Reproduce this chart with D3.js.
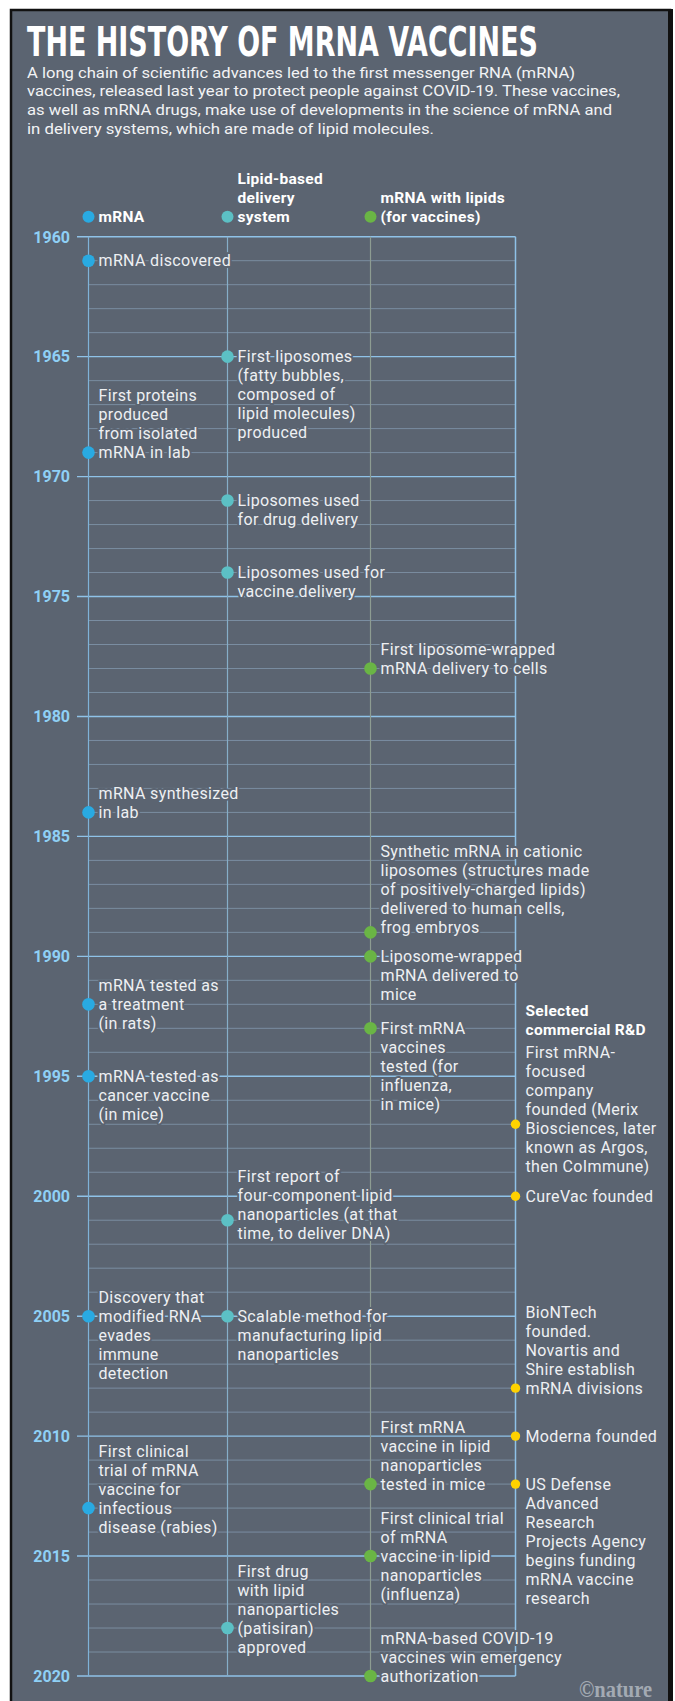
<!DOCTYPE html>
<html>
<head>
<meta charset="utf-8">
<script src="https://cdn.jsdelivr.net/npm/d3@7"></script>
<style>
  body { margin: 0; background: #fff; }
  svg text { font-family: Roboto, "Noto Sans", sans-serif; }
</style>
</head>
<body>
<div id="chart"></div>
<script>

// ---- data ----
var title = "THE HISTORY OF MRNA VACCINES";
var subtitle = [
  "A long chain of scientific advances led to the first messenger RNA (mRNA)",
  "vaccines, released last year to protect people against COVID-19. These vaccines,",
  "as well as mRNA drugs, make use of developments in the science of mRNA and",
  "in delivery systems, which are made of lipid molecules."
];

var tracks = ["mrna", "lipid", "vaccine", "commercial"];
var trackHeaders = [
  ["mRNA"],
  ["Lipid-based", "delivery", "system"],
  ["mRNA with lipids", "(for vaccines)"],
  ["Selected", "commercial R&D"]
];

var yearTicks = [1960, 1965, 1970, 1975, 1980, 1985, 1990, 1995, 2000, 2005, 2010, 2015, 2020];

var mrnaEvents = [
  { year: 1961, text: ["mRNA discovered"] },
  { year: 1969, text: ["First proteins", "produced", "from isolated", "mRNA in lab"] },
  { year: 1984, text: ["mRNA synthesized", "in lab"] },
  { year: 1992, text: ["mRNA tested as", "a treatment", "(in rats)"] },
  { year: 1995, text: ["mRNA tested as", "cancer vaccine", "(in mice)"] },
  { year: 2005, text: ["Discovery that", "modified RNA", "evades", "immune", "detection"] },
  { year: 2013, text: ["First clinical", "trial of mRNA", "vaccine for", "infectious", "disease (rabies)"] }
];

var lipidEvents = [
  { year: 1965, text: ["First liposomes", "(fatty bubbles,", "composed of", "lipid molecules)", "produced"] },
  { year: 1971, text: ["Liposomes used", "for drug delivery"] },
  { year: 1974, text: ["Liposomes used for", "vaccine delivery"] },
  { year: 2001, text: ["First report of", "four-component lipid", "nanoparticles (at that", "time, to deliver DNA)"] },
  { year: 2005, text: ["Scalable method for", "manufacturing lipid", "nanoparticles"] },
  { year: 2018, text: ["First drug", "with lipid", "nanoparticles", "(patisiran)", "approved"] }
];

var vaccineEvents = [
  { year: 1978, text: ["First liposome-wrapped", "mRNA delivery to cells"] },
  { year: 1989, text: ["Synthetic mRNA in cationic", "liposomes (structures made", "of positively-charged lipids)", "delivered to human cells,", "frog embryos"] },
  { year: 1990, text: ["Liposome-wrapped", "mRNA delivered to", "mice"] },
  { year: 1993, text: ["First mRNA", "vaccines", "tested (for", "influenza,", "in mice)"] },
  { year: 2012, text: ["First mRNA", "vaccine in lipid", "nanoparticles", "tested in mice"] },
  { year: 2015, text: ["First clinical trial", "of mRNA", "vaccine in lipid", "nanoparticles", "(influenza)"] },
  { year: 2020, text: ["mRNA-based COVID-19", "vaccines win emergency", "authorization"] }
];

var commercialEvents = [
  { year: 1997, text: ["First mRNA-", "focused", "company", "founded (Merix", "Biosciences, later", "known as Argos,", "then CoImmune)"] },
  { year: 2000, text: ["CureVac founded"] },
  { year: 2008, text: ["BioNTech", "founded.", "Novartis and", "Shire establish", "mRNA divisions"] },
  { year: 2010, text: ["Moderna founded"] },
  { year: 2012, text: ["US Defense", "Advanced", "Research", "Projects Agency", "begins funding", "mRNA vaccine", "research"] }
];

// ---- layout ----
// which text line sits level with the dot (in lines, from the first)
var anchors = {
  mrna: [0, 3, 1, 1, 0, 1, 3],
  lipid: [0, 0, 0, 2.3, 0, 3],
  vaccine: [1, 4.25, 0, 0, 3, 2, 2],
  commercial: [3.77, 0, 4, 0, 0]
};

var W = 675, H = 1701;
var bg = "#5b6471";
var dotColor = d3.scaleOrdinal().domain(tracks).range(["#29aae2", "#5cc0c5", "#6ab545", "#ffd200"]);
var lineColor = d3.scaleOrdinal().domain(tracks).range(["#7fb2d8", "#86aec8", "#8d9c92", "#8fc1e8"]);
var xCol = d3.scaleOrdinal().domain(tracks).range([88.5, 227.5, 370.5, 515.5]);
var yScale = d3.scaleLinear().domain([1960, 2020]).range([236.7, 1676]);
var lineH = 19;
var fontSize = 16;
var spacing = "0.35px";

var svg = d3.select("#chart").append("svg")
  .attr("width", W)
  .attr("height", H);

// panel
svg.append("rect").attr("x", 0).attr("y", 0).attr("width", W).attr("height", H).attr("fill", "#fff");
svg.append("rect")
  .attr("x", 11).attr("y", 10).attr("width", 659).attr("height", H)
  .attr("fill", bg).attr("stroke", "#111").attr("stroke-width", 2.5);
svg.append("rect").attr("x", 668).attr("y", 9).attr("width", 5).attr("height", H).attr("fill", "#111");

// title (squeezed condensed bold, stretched vertically)
svg.append("text")
  .attr("transform", "translate(27,55.5) scale(1,1.25)")
  .attr("textLength", 511).attr("lengthAdjust", "spacingAndGlyphs")
  .style("font-family", "'DejaVu Sans Condensed', 'DejaVu Sans', sans-serif")
  .style("font-weight", "bold").style("font-size", "32px")
  .attr("fill", "#fff")
  .text(title);

var subWidths = [548, 593, 585, 407];
svg.selectAll(".sub").data(subtitle).enter().append("text")
  .attr("class", "sub")
  .attr("x", 27)
  .attr("y", function(d, i) { return 77.5 + i * 18.7; })
  .attr("textLength", function(d, i) { return subWidths[i]; })
  .attr("lengthAdjust", "spacingAndGlyphs")
  .style("font-size", "15px")
  .attr("fill", "#f2f3f5")
  .text(function(d) { return d; });

// grid
var years = d3.range(1960, 2021);
var xRight = xCol("commercial");

svg.append("g").selectAll("line").data(years.filter(function(y) { return y % 5 != 0; }))
  .enter().append("line")
  .attr("x1", xCol("mrna")).attr("x2", xRight)
  .attr("y1", function(d) { return yScale(d); })
  .attr("y2", function(d) { return yScale(d); })
  .attr("stroke", "#7a8da1").attr("stroke-width", 1);

svg.append("g").selectAll("line").data(yearTicks)
  .enter().append("line")
  .attr("x1", 77).attr("x2", xRight)
  .attr("y1", function(d) { return yScale(d); })
  .attr("y2", function(d) { return yScale(d); })
  .attr("stroke", "#8fc2e8").attr("stroke-width", 1.4);

// year labels
svg.append("g").selectAll("text").data(yearTicks)
  .enter().append("text")
  .attr("x", 70)
  .attr("y", function(d) { return yScale(d) + 5.8; })
  .attr("text-anchor", "end")
  .style("font-size", "16px").style("font-weight", "bold")
  .attr("fill", "#8fd0f6")
  .text(function(d) { return d; });

// track verticals
svg.append("g").selectAll("line").data(tracks)
  .enter().append("line")
  .attr("x1", function(d) { return xCol(d); })
  .attr("x2", function(d) { return xCol(d); })
  .attr("y1", yScale(1960)).attr("y2", yScale(2020))
  .attr("stroke", function(d) { return lineColor(d); })
  .attr("stroke-width", function(d) { return d == "commercial" ? 1.5 : 1.2; });

// legend headers
var headerBase = [221.7, 221.7, 221.7, 1034.5];
tracks.forEach(function(t, i) {
  var lines = trackHeaders[i];
  var g = svg.append("g");
  g.selectAll("text").data(lines).enter().append("text")
    .attr("x", xCol(t) + 10)
    .attr("y", function(d, j) { return headerBase[i] - (lines.length - 1 - j) * 18.8; })
    .style("font-size", "15.5px").style("font-weight", "bold")
    .style("letter-spacing", "0.3px")
    .attr("fill", "#fff")
    .attr("stroke", bg).attr("stroke-width", 4).attr("stroke-linejoin", "round")
    .style("paint-order", "stroke")
    .text(function(d) { return d; });
  if (t != "commercial") {
    g.append("circle")
      .attr("cx", xCol(t)).attr("cy", 216.7).attr("r", 6)
      .attr("fill", dotColor(t));
  }
});

// events
var allEvents = { mrna: mrnaEvents, lipid: lipidEvents, vaccine: vaccineEvents, commercial: commercialEvents };

var textLayer = svg.append("g");
var dotLayer = svg.append("g");

tracks.forEach(function(t) {
  allEvents[t].forEach(function(ev, i) {
    var cy = yScale(ev.year);
    var top = cy - anchors[t][i] * lineH;
    textLayer.append("g").selectAll("text").data(ev.text).enter().append("text")
      .attr("x", xCol(t) + 10)
      .attr("y", function(d, j) { return top + j * lineH + 5.6; })
      .style("font-size", fontSize + "px")
      .style("letter-spacing", spacing)
      .attr("fill", "#eef0f3")
      .attr("stroke", bg).attr("stroke-width", 4).attr("stroke-linejoin", "round")
      .style("paint-order", "stroke")
      .text(function(d) { return d; });

    dotLayer.append("circle")
      .attr("cx", xCol(t)).attr("cy", cy)
      .attr("r", t == "commercial" ? 4.7 : 6.3)
      .attr("fill", dotColor(t));
  });
});

// credit
svg.append("text")
  .attr("x", 652).attr("y", 1697)
  .attr("text-anchor", "end")
  .attr("textLength", 73).attr("lengthAdjust", "spacingAndGlyphs")
  .style("font-family", "'Liberation Serif', serif")
  .style("font-weight", "bold").style("font-size", "24px")
  .attr("fill", "#a3aab3")
  .text("\u00a9nature");

</script>
</body>
</html>
